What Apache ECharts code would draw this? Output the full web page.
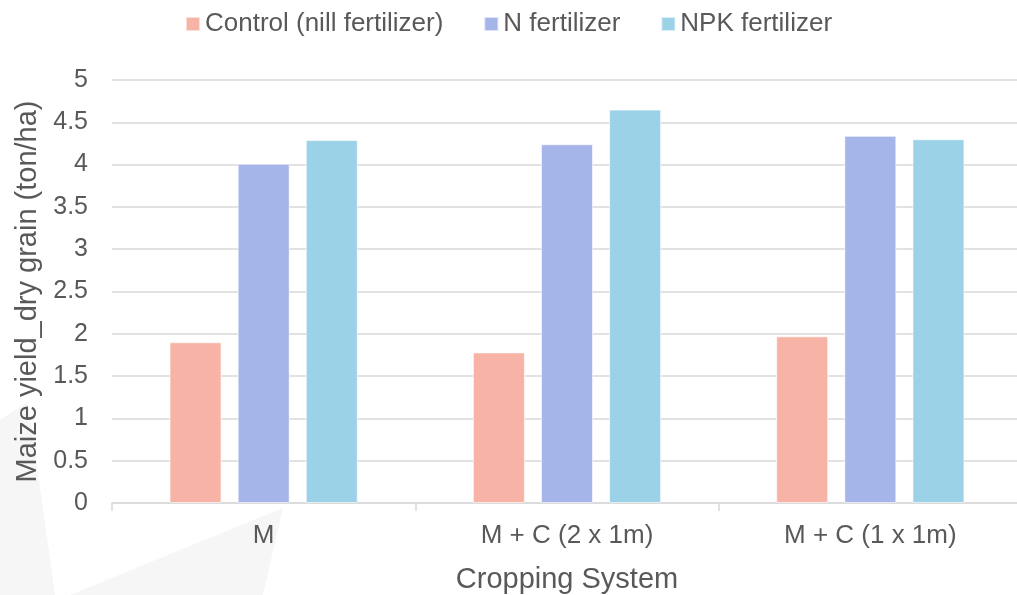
<!DOCTYPE html>
<html>
<head>
<meta charset="utf-8">
<script src="https://cdn.jsdelivr.net/npm/echarts@6/dist/echarts.min.js"></script>
<style>
    html, body { margin: 0; padding: 0; background: #fff; }
    #chart { width: 1017px; height: 595px; }
</style>
</head>
<body>
<div id="chart"></div>
<script>
var categories = ['M', 'M + C (2 x 1m)', 'M + C (1 x 1m)'];
var seriesNames = ['Control (nill fertilizer)', 'N fertilizer', 'NPK fertilizer'];
var controlVals = [1.90, 1.78, 1.97];
var nVals = [4.01, 4.24, 4.34];
var npkVals = [4.29, 4.65, 4.30];
var yTicks = [0, 5, 0.5];  // min, max, step

var colors = ['#F7B3A5', '#A5B4E9', '#9BD2E8'];
var textColor = '#595959';
var font = '"Liberation Sans", Arial, sans-serif';

var chart = echarts.init(document.getElementById('chart'));

function bar(name, data, i) {
    return {
        name: name,
        type: 'bar',
        data: data,
        barWidth: 52,
        barGap: '31%',
        itemStyle: { color: colors[i], borderColor: 'rgba(255,255,255,0.6)', borderWidth: 1 }
    };
}

chart.setOption({
    animation: false,
    textStyle: { fontFamily: font },
    graphic: [
        { type: 'polygon', z: -10, silent: true,
          shape: { points: [[0, 420], [28, 402], [55, 595], [0, 595]] },
          style: { fill: '#f6f6f6' } },
        { type: 'polygon', z: -10, silent: true,
          shape: { points: [[283, 508], [263, 595], [70, 595]] },
          style: { fill: '#f6f6f6' } }
    ],
    legend: {
        top: 6,
        left: 'center',
        itemWidth: 14,
        itemHeight: 14,
        itemGap: 40,
        icon: 'rect',
        textStyle: { fontSize: 26, color: textColor, fontFamily: font },
        data: seriesNames
    },
    grid: {
        left: 112,
        right: -5,
        top: 80,
        bottom: 92,
        outerBoundsMode: 'none',
        containLabel: false
    },
    xAxis: {
        type: 'category',
        data: categories,
        name: 'Cropping System',
        nameLocation: 'middle',
        nameGap: 62,
        nameTextStyle: { fontSize: 29, color: textColor, fontFamily: font },
        axisLine: { lineStyle: { color: '#d9d9d9', width: 1.5 } },
        axisTick: { show: true, length: 8, lineStyle: { color: '#d9d9d9', width: 1.5 } },
        axisLabel: { fontSize: 26, color: textColor, margin: 20, fontFamily: font }
    },
    yAxis: {
        type: 'value',
        min: yTicks[0],
        max: yTicks[1],
        interval: yTicks[2],
        name: 'Maize yield_dry grain (ton/ha)',
        nameLocation: 'middle',
        nameGap: 69,
        nameRotate: 90,
        nameTextStyle: { fontSize: 29, color: textColor, fontFamily: font },
        axisLine: { show: false },
        axisTick: { show: false },
        splitLine: { lineStyle: { color: '#d9d9d9', width: 1.5 } },
        axisLabel: { fontSize: 25, color: textColor, margin: 24, fontFamily: font }
    },
    series: [
        bar(seriesNames[0], controlVals, 0),
        bar(seriesNames[1], nVals, 1),
        bar(seriesNames[2], npkVals, 2)
    ]
});
</script>
</body>
</html>
